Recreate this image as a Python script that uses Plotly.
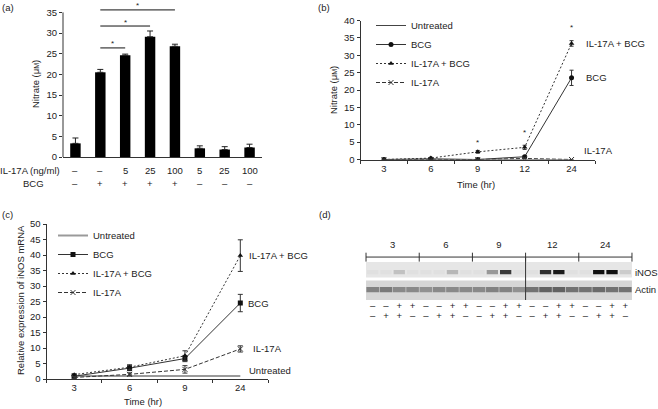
import plotly.graph_objects as go

W, H = 658, 409
FONT = "Liberation Sans, Arial, sans-serif"
INK = "#222222"
FS = 9.5

# ---------------- (a) nitrate bar chart ----------------
a_conditions = ["Untreated", "BCG", "BCG + IL-17A 5", "BCG + IL-17A 25", "BCG + IL-17A 100",
                "IL-17A 5", "IL-17A 25", "IL-17A 100"]
a_il17_labels = ["–", "–", "5", "25", "100", "5", "25", "100"]
a_bcg_labels = ["–", "+", "+", "+", "+", "–", "–", "–"]
a_nitrate = [3.3, 20.5, 24.6, 29.1, 26.8, 2.1, 1.8, 2.3]
a_err = [1.3, 0.7, 0.3, 1.4, 0.5, 0.6, 0.7, 0.8]
a_sig_pairs = [("BCG", "BCG + IL-17A 5"), ("BCG", "BCG + IL-17A 25"), ("BCG", "BCG + IL-17A 100")]
a_sig_levels = [26.4, 31.7, 35.6]

# ---------------- (b) nitrate time course ----------------
b_times = ["3", "6", "9", "12", "24"]
b_untreated = [0, 0, 0, 0.2, 0]
b_bcg = [0, 0.2, 0, 0.8, 23.5]
b_bcg_err = [0, 0.1, 0.1, 0.2, 2.2]
b_il_bcg = [0, 0.4, 2.2, 3.5, 33.4]
b_il_bcg_err = [0, 0.1, 0.4, 0.6, 0.8]
b_il = [0, 0, 0, 0.3, 0]
b_il_err = [0, 0, 0, 0.1, 0]
b_star_times = ["9", "12", "24"]
b_star_levels = [4.9, 7.7, 38.1]

# ---------------- (c) iNOS mRNA time course ----------------
c_times = ["3", "6", "9", "24"]
c_untreated = [1, 1, 1, 1]
c_bcg = [0.9, 3.5, 6.6, 24.5]
c_bcg_err = [0.3, 0.8, 1.0, 2.8]
c_il_bcg = [1.4, 3.8, 7.5, 39.8]
c_il_bcg_err = [0.3, 0.8, 1.6, 5.1]
c_il = [0.5, 1.5, 3.1, 9.7]
c_il_err = [0.3, 0.5, 1.2, 1.0]

# ---------------- (d) western blot ----------------
d_times = ["3", "6", "9", "12", "24"]
d_il17_signs = ["–", "–", "+", "+"] * 5
d_bcg_signs = ["–", "+", "+", "–"] * 5
d_lanes = list(range(1, 21))
d_inos = [0, 0, 0.15, 0,
          0, 0, 0.2, 0,
          0, 0.35, 0.8, 0,
          0, 0.85, 0.95, 0,
          0, 1.0, 1.0, 0.1]
d_actin = [0.5, 0.55, 0.45, 0.45,
           0.4, 0.45, 0.45, 0.45,
           0.45, 0.5, 0.5, 0.4,
           0.6, 0.7, 0.7, 0.6,
           0.6, 0.65, 0.6, 0.6]


def pxx(p):
    return p / W


def pxy(p):
    return 1 - p / H


fig = go.Figure()

# (a)
fig.add_trace(go.Bar(
    x=a_conditions, y=a_nitrate, width=0.42, marker=dict(color="#000000", line=dict(width=0)),
    error_y=dict(type="data", symmetric=False, array=a_err, arrayminus=[0] * len(a_err),
                 color=INK, thickness=1, width=3),
    xaxis="x", yaxis="y", showlegend=False))

# (b)
fig.add_trace(go.Scatter(x=b_times, y=b_untreated, name="Untreated", mode="lines",
                         line=dict(width=1, color="#444444"), xaxis="x2", yaxis="y2", legend="legend"))
fig.add_trace(go.Scatter(x=b_times, y=b_bcg, name="BCG", mode="lines+markers",
                         line=dict(width=1, color="#333333"),
                         marker=dict(symbol="circle", size=5, color="#111111"),
                         error_y=dict(type="data", array=b_bcg_err, color="#333333", thickness=1, width=2),
                         xaxis="x2", yaxis="y2", legend="legend"))
fig.add_trace(go.Scatter(x=b_times, y=b_il_bcg, name="IL-17A + BCG", mode="lines+markers",
                         line=dict(width=1, color="#333333", dash="2px,2px"),
                         marker=dict(symbol="triangle-up", size=5, color="#111111"),
                         error_y=dict(type="data", array=b_il_bcg_err, color="#333333", thickness=1, width=2),
                         xaxis="x2", yaxis="y2", legend="legend"))
fig.add_trace(go.Scatter(x=b_times, y=b_il, name="IL-17A", mode="lines+markers",
                         line=dict(width=1, color="#333333", dash="4px,2px"),
                         marker=dict(symbol="x-thin", size=5, line=dict(width=1, color="#333333")),
                         error_y=dict(type="data", array=b_il_err, color="#333333", thickness=1, width=2),
                         xaxis="x2", yaxis="y2", legend="legend"))

# (c)
fig.add_trace(go.Scatter(x=c_times, y=c_untreated, name="Untreated", mode="lines",
                         line=dict(width=2, color="#9a9a9a"), xaxis="x3", yaxis="y3", legend="legend2"))
fig.add_trace(go.Scatter(x=c_times, y=c_bcg, name="BCG", mode="lines+markers",
                         line=dict(width=1, color="#333333"),
                         marker=dict(symbol="square", size=5, color="#111111"),
                         error_y=dict(type="data", array=c_bcg_err, color="#333333", thickness=1, width=2.5),
                         xaxis="x3", yaxis="y3", legend="legend2"))
fig.add_trace(go.Scatter(x=c_times, y=c_il_bcg, name="IL-17A + BCG", mode="lines+markers",
                         line=dict(width=1, color="#333333", dash="2px,2px"),
                         marker=dict(symbol="triangle-up", size=5, color="#111111"),
                         error_y=dict(type="data", array=c_il_bcg_err, color="#333333", thickness=1, width=2.5),
                         xaxis="x3", yaxis="y3", legend="legend2"))
fig.add_trace(go.Scatter(x=c_times, y=c_il, name="IL-17A", mode="lines+markers",
                         line=dict(width=1, color="#333333", dash="4px,2px"),
                         marker=dict(symbol="x-thin", size=5, line=dict(width=1, color="#333333")),
                         error_y=dict(type="data", array=c_il_err, color="#333333", thickness=1, width=2.5),
                         xaxis="x3", yaxis="y3", legend="legend2"))

# (d) blot bands
blot_scale = [[0, "#e0e0e0"], [1, "#111111"]]
fig.add_trace(go.Bar(x=d_lanes, y=[0.22] * 20, base=[1.47 - 0.11] * 20, width=0.85,
                     marker=dict(color=d_inos, colorscale=blot_scale, cmin=0, cmax=1, line=dict(width=0)),
                     xaxis="x4", yaxis="y4", showlegend=False, hoverinfo="skip"))
actin_scale = [[0, "#d0d0d0"], [1, "#333333"]]
fig.add_trace(go.Bar(x=d_lanes, y=[0.28] * 20, base=[0.55 - 0.14] * 20, width=0.95,
                     marker=dict(color=d_actin, colorscale=actin_scale, cmin=0, cmax=1, line=dict(width=0)),
                     xaxis="x4", yaxis="y4", showlegend=False, hoverinfo="skip"))
fig.add_trace(go.Scatter(x=d_lanes, y=[-0.37] * 20, text=d_il17_signs, mode="text",
                         textfont=dict(size=FS, color=INK, family=FONT), xaxis="x4", yaxis="y4",
                         showlegend=False, cliponaxis=False, hoverinfo="skip"))
fig.add_trace(go.Scatter(x=d_lanes, y=[-0.9] * 20, text=d_bcg_signs, mode="text",
                         textfont=dict(size=FS, color=INK, family=FONT), xaxis="x4", yaxis="y4",
                         showlegend=False, cliponaxis=False, hoverinfo="skip"))
group_centers = [2.5 + 4 * i for i in range(len(d_times))]
fig.add_trace(go.Scatter(x=group_centers, y=[2.84] * len(d_times), text=d_times, mode="text",
                         textfont=dict(size=FS, color=INK, family=FONT), xaxis="x4", yaxis="y4",
                         showlegend=False, cliponaxis=False, hoverinfo="skip"))

shapes = []
annotations = []


def ann(**kw):
    base = dict(showarrow=False, xanchor="center", yanchor="middle",
                font=dict(size=FS, color=INK, family=FONT))
    base.update(kw)
    annotations.append(base)


# (a) y axis line up to 35 and significance bars
shapes.append(dict(type="line", xref="x domain", yref="y", x0=0, x1=0, y0=0, y1=35,
                   line=dict(color="#333333", width=1)))
for (c1, c2), lev in zip(a_sig_pairs, a_sig_levels):
    shapes.append(dict(type="line", xref="x", yref="y", x0=c1, x1=c2, y0=lev, y1=lev,
                       line=dict(color="#111111", width=1)))
    mid = (a_conditions.index(c1) + a_conditions.index(c2)) / 2
    ann(x=mid, y=lev, xref="x", yref="y", text="*", yshift=4, font=dict(size=8, color=INK, family=FONT))
for cond, il, bcg in zip(a_conditions, a_il17_labels, a_bcg_labels):
    ann(x=cond, y=pxy(170), xref="x", yref="paper", text=il)
    ann(x=cond, y=pxy(183), xref="x", yref="paper", text=bcg)
ann(x=pxx(62), y=pxy(170), xref="paper", yref="paper", text="IL-17A (ng/ml)", xanchor="right")
ann(x=pxx(46), y=pxy(183), xref="paper", yref="paper", text="BCG", xanchor="right")
ann(x=pxx(35), y=pxy(84), xref="paper", yref="paper",
    text="Nitrate (μ<span style='font-size:7px'>M</span>)", textangle=-90)

# (b) stars, end labels, titles
for t, lev in zip(b_star_times, b_star_levels):
    ann(x=b_times.index(t), y=lev, xref="x2", yref="y2", text="*", font=dict(size=8, color=INK, family=FONT))
last_b = len(b_times) - 1
ann(x=last_b, y=b_il_bcg[-1], xref="x2", yref="y2", text="IL-17A + BCG", xanchor="left", xshift=12)
ann(x=last_b, y=b_bcg[-1], xref="x2", yref="y2", text="BCG", xanchor="left", xshift=12)
ann(x=last_b, y=b_il[-1], xref="x2", yref="y2", text="IL-17A", xanchor="left", xshift=10, yshift=9)
ann(x=pxx(333), y=pxy(90), xref="paper", yref="paper",
    text="Nitrate (μ<span style='font-size:7px'>M</span>)", textangle=-90)
ann(x=pxx(476), y=pxy(184), xref="paper", yref="paper", text="Time (hr)")

# (c) end labels, titles
last_c = len(c_times) - 1
ann(x=last_c, y=c_il_bcg[-1], xref="x3", yref="y3", text="IL-17A + BCG", xanchor="left", xshift=7)
ann(x=last_c, y=c_bcg[-1], xref="x3", yref="y3", text="BCG", xanchor="left", xshift=6)
ann(x=last_c, y=c_il[-1], xref="x3", yref="y3", text="IL-17A", xanchor="left", xshift=11)
ann(x=last_c, y=c_untreated[-1], xref="x3", yref="y3", text="Untreated", xanchor="left", xshift=7, yshift=5)
ann(x=pxx(20), y=pxy(300), xref="paper", yref="paper", text="Relative expression of iNOS mRNA", textangle=-90)
ann(x=pxx(143), y=pxy(401), xref="paper", yref="paper", text="Time (hr)")

# (d) blot frame
shapes.append(dict(type="rect", xref="x4", yref="y4", x0=0.5, x1=20.5, y0=1.18, y1=2.0,
                   fillcolor="#e6e6e6", line=dict(width=0), layer="below"))
shapes.append(dict(type="rect", xref="x4", yref="y4", x0=0.5, x1=20.5, y0=0.0, y1=1.02,
                   fillcolor="#d6d6d6", line=dict(width=0), layer="below"))
shapes.append(dict(type="line", xref="x4", yref="y4", x0=12.5, x1=12.5, y0=0.0, y1=2.26,
                   line=dict(color="#333333", width=1)))
shapes.append(dict(type="line", xref="x4", yref="y4", x0=0.5, x1=20.5, y0=2.26, y1=2.26,
                   line=dict(color="#333333", width=1)))
for k in range(len(d_times) + 1):
    xs = 0.5 + 4 * k
    shapes.append(dict(type="line", xref="x4", yref="y4", x0=xs, x1=xs, y0=2.02, y1=2.49,
                       line=dict(color="#333333", width=1)))
ann(x=0.3, y=2.84, xref="x4", yref="y4", text="Time (hr)", xanchor="right")
ann(x=0.3, y=-0.37, xref="x4", yref="y4", text="IL-17A", xanchor="right")
ann(x=0.3, y=-0.9, xref="x4", yref="y4", text="BCG", xanchor="right")
ann(x=20.55, y=1.47, xref="x4", yref="y4", text="iNOS", xanchor="left")
ann(x=20.55, y=0.55, xref="x4", yref="y4", text="Actin", xanchor="left")

# panel labels
for lab, px, py in [("(a)", 8, 8), ("(b)", 324, 8), ("(c)", 7, 214), ("(d)", 325, 214)]:
    ann(x=pxx(px), y=pxy(py), xref="paper", yref="paper", text=lab)

axis_common = dict(showgrid=False, zeroline=False, linecolor="#333333", linewidth=1, automargin=False,
                   tickcolor="#333333", tickwidth=1, ticklen=3, tickfont=dict(size=FS, color=INK, family=FONT))

fig.update_layout(
    template="none",
    width=W, height=H, margin=dict(l=0, r=0, t=0, b=0, autoexpand=False),
    paper_bgcolor="white", plot_bgcolor="rgba(0,0,0,0)",
    font=dict(family=FONT, size=FS, color=INK),
    barmode="overlay", hovermode=False,
    xaxis=dict(domain=[pxx(63), pxx(262)], anchor="y", type="category", categoryorder="array",
               categoryarray=a_conditions, range=[-0.5, 7.5], showline=True, ticks="",
               showticklabels=False, **axis_common),
    yaxis=dict(domain=[pxy(157), 1.0], anchor="x", range=[0, 38], tickvals=list(range(0, 36, 5)),
               ticks="outside", showline=False, **axis_common),
    xaxis2=dict(domain=[pxx(360.5), pxx(595)], anchor="y2", type="category", categoryorder="array",
                categoryarray=b_times, range=[-0.5, 4.5], showline=True, ticks="outside",
                tickson="boundaries", **axis_common),
    yaxis2=dict(domain=[pxy(159.5), pxy(20.5)], anchor="x2", range=[0, 40], dtick=5,
                ticks="outside", showline=True, **axis_common),
    xaxis3=dict(domain=[pxx(46.5), pxx(268)], anchor="y3", type="category", categoryorder="array",
                categoryarray=c_times, range=[-0.5, 3.5], showline=True, ticks="outside",
                tickson="boundaries", **axis_common),
    yaxis3=dict(domain=[pxy(379), pxy(224)], anchor="x3", range=[0, 50], dtick=5,
                ticks="outside", showline=True, **axis_common),
    xaxis4=dict(domain=[pxx(364.7), pxx(633.3)], anchor="y4", range=[0.4, 20.6], visible=False),
    yaxis4=dict(domain=[pxy(322), pxy(240)], anchor="x4", range=[-1.158, 3.158], visible=False),
    legend=dict(x=pxx(371), y=pxy(11), xanchor="left", yanchor="top", bgcolor="rgba(0,0,0,0)",
                font=dict(size=FS, color=INK, family=FONT), itemwidth=30, tracegroupgap=0),
    legend2=dict(x=pxx(53), y=pxy(221), xanchor="left", yanchor="top", bgcolor="rgba(0,0,0,0)",
                 font=dict(size=FS, color=INK, family=FONT), itemwidth=30, tracegroupgap=0),
    shapes=shapes, annotations=annotations,
)

fig.write_html("out.html", config={"displayModeBar": False, "staticPlot": True},
               post_script="document.body.style.margin='0';document.body.style.overflow='hidden';"
                           "document.querySelectorAll('.plotly-graph-div').forEach(function(d){d.style.opacity='0.999';});")
